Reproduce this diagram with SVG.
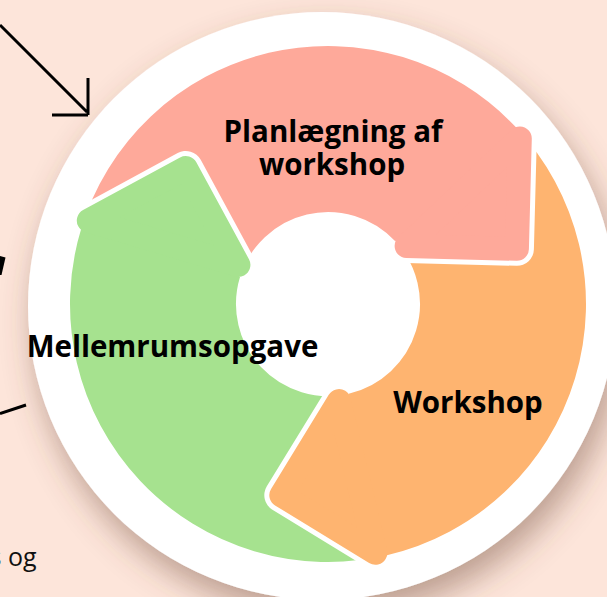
<svg xmlns="http://www.w3.org/2000/svg" xmlns:xlink="http://www.w3.org/1999/xlink" width="607" height="597" viewBox="0 0 607 597">
<style>
.lbl{font-family:"Open Sans","Noto Sans","DejaVu Sans",sans-serif;font-weight:700;font-size:29.5px;fill:#000;text-anchor:middle}
.note{font-family:"Open Sans","Noto Sans","DejaVu Sans",sans-serif;font-size:25px;fill:#111}
.ink{fill:none;stroke:#000;stroke-width:3}
.cut{fill:#000;stroke:#000;stroke-width:34;stroke-linejoin:round}
</style>
<defs>
<filter id="shadow" x="-20%" y="-20%" width="150%" height="150%">
<feDropShadow dx="6" dy="16" stdDeviation="16" flood-color="#6b4536" flood-opacity="0.45"/>
</filter>
<path id="body" d="M -129,-223.43 A 258 258 0 0 1 257.99,2.25 L 92,0.8 A 92 92 0 0 0 -46,-79.67 Z"/>
<polygon id="head" points="253.02,12 96.98,12 175,90.03"/>
<mask id="m-orange" maskUnits="userSpaceOnUse" x="0" y="0" width="607" height="597">
<rect width="607" height="597" fill="#fff"/>
<use xlink:href="#head" class="cut" transform="translate(328,304) rotate(-43.5)"/>
</mask>
<mask id="m-green" maskUnits="userSpaceOnUse" x="0" y="0" width="607" height="597">
<rect width="607" height="597" fill="#fff"/>
<use xlink:href="#head" class="cut" transform="translate(328,304) rotate(76.5)"/>
</mask>
<mask id="m-pink" maskUnits="userSpaceOnUse" x="0" y="0" width="607" height="597">
<rect width="607" height="597" fill="#fff"/>
<use xlink:href="#head" class="cut" transform="translate(328,304) rotate(196.5)"/>
</mask>
</defs>
<rect width="607" height="597" fill="#FDE5DA"/>
<circle id="disk" cx="322" cy="306" r="294" fill="#fff" filter="url(#shadow)"/>
<g id="node-planlaegning">
<g mask="url(#m-pink)">
<g transform="translate(328,304) rotate(-43.5)" fill="#FEA99A">
<use xlink:href="#body"/>
<use xlink:href="#head" stroke="#FEA99A" stroke-width="24" stroke-linejoin="round"/>
</g>
</g>
<text class="lbl" x="333" y="142">Planlægning af</text>
<text class="lbl" x="332" y="175">workshop</text>
</g>
<g id="node-workshop">
<g mask="url(#m-orange)">
<g transform="translate(328,304) rotate(76.5)" fill="#FEB470">
<use xlink:href="#body"/>
<use xlink:href="#head" stroke="#FEB470" stroke-width="24" stroke-linejoin="round"/>
</g>
</g>
<text class="lbl" x="468" y="413">Workshop</text>
</g>
<g id="node-mellemrum">
<g mask="url(#m-green)">
<g transform="translate(328,304) rotate(196.5)" fill="#A6E28F">
<use xlink:href="#body"/>
<use xlink:href="#head" stroke="#A6E28F" stroke-width="24" stroke-linejoin="round"/>
</g>
</g>
<text class="lbl" x="172.5" y="357">Mellemrumsopgave</text>
</g>
<g id="connectors">
<path class="ink" d="M 0,25 L 87,112 M 88,78 L 88,115 M 52,115 L 88,115"/>
<polygon points="0,256 5.5,257.5 1.5,275 0,275" fill="#000"/>
<path class="ink" d="M 0,413.5 L 26,405"/>
</g>
<text class="note" x="-10.5" y="566">s og</text>
</svg>
